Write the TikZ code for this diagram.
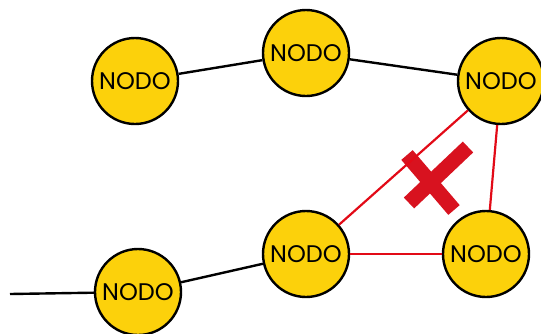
\documentclass[tikz,border=0pt]{standalone}
\usepackage{fontspec}
\newfontfamily\nodofont{Poppins}
\definecolor{nodoyellow}{HTML}{FCD10B}
\definecolor{xred}{HTML}{D8121F}
\definecolor{lred}{HTML}{E20A17}
\begin{document}
\begin{tikzpicture}[x=1pt,y=-1pt,
  nodo/.style={circle,draw=black,line width=2.4pt,fill=nodoyellow,minimum size=86pt,inner sep=0pt,font=\nodofont\fontsize{24}{24}\selectfont},
  blk/.style={black,line width=2.4pt},
  rd/.style={lred,line width=2.2pt},
  brush/.style={xred,line width=15pt}]
\useasboundingbox (0,0) rectangle (541,333);
\node[nodo] (A) at (135,81) {NODO};
\node[nodo] (B) at (306,53) {NODO};
\node[nodo] (C) at (501,81) {NODO};
\node[nodo] (D) at (306,254) {NODO};
\node[nodo] (E) at (486,254) {NODO};
\node[nodo] (F) at (138,292) {NODO};
\coordinate (L) at (10,294);
\draw[blk] (A) -- (B);
\draw[blk] (B) -- (C);
\draw[blk] (D) -- (F);
\draw[blk] (L) -- (F);
% X mark
\coordinate (x1a) at (407,155);
\coordinate (x1b) at (454,210);
\coordinate (x2a) at (468,147);
\coordinate (x2b) at (409,203);
\draw[brush] (x1a) -- (x1b);
\draw[brush] (x2a) -- (x2b);
\draw[rd] (C) -- (D);
\draw[rd] (C) -- (E);
\draw[rd] (D) -- (E);
\end{tikzpicture}
\end{document}
